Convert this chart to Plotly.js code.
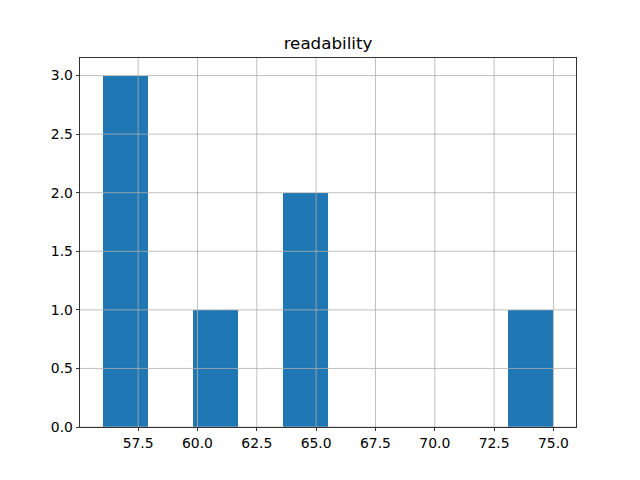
<!DOCTYPE html>
<html>
<head>
<meta charset="utf-8">
<script src="https://cdn.plot.ly/plotly-3.0.1.min.js"></script>
<style>html,body{margin:0;padding:0;background:#fff;}#chart{width:640px;height:480px;}</style>
</head>
<body>
<div id="chart"></div>
<script>
// Histogram of "readability": 10 bins from 56 to 75
const binStart = 56;
const binEnd = 75;
const binCount = 10;
const counts = [3, 0, 1, 0, 2, 0, 0, 0, 0, 1];
const xTicks = [57.5, 60.0, 62.5, 65.0, 67.5, 70.0, 72.5, 75.0];
const xTickLabels = ['57.5', '60.0', '62.5', '65.0', '67.5', '70.0', '72.5', '75.0'];
const yTicks = [0, 0.5, 1.0, 1.5, 2.0, 2.5, 3.0];
const yTickLabels = ['0.0', '0.5', '1.0', '1.5', '2.0', '2.5', '3.0'];
const titleText = 'readability';

const binWidth = (binEnd - binStart) / binCount;
const centers = counts.map((_, i) => binStart + binWidth * (i + 0.5));
const xPad = (binEnd - binStart) * 0.05;
const yMax = Math.max(...counts) * 1.05;

const gridColor = '#b0b0b0';
const shapes = [];
xTicks.forEach(v => shapes.push({type: 'line', xref: 'x', yref: 'paper', x0: v, x1: v, y0: 0, y1: 1, line: {color: gridColor, width: 0.8}, layer: 'above'}));
yTicks.forEach(v => shapes.push({type: 'line', xref: 'paper', yref: 'y', x0: 0, x1: 1, y0: v, y1: v, line: {color: gridColor, width: 0.8}, layer: 'above'}));

const font = {family: 'DejaVu Sans', size: 13.9, color: '#000'};

Plotly.newPlot('chart', [{
  type: 'bar',
  x: centers,
  y: counts,
  width: binWidth,
  marker: {color: '#1f77b4', line: {width: 0}},
  hoverinfo: 'x+y'
}], {
  width: 640, height: 480,
  margin: {l: 80, r: 64, t: 58, b: 53, pad: 0},
  paper_bgcolor: '#fff', plot_bgcolor: '#fff',
  showlegend: false,
  bargap: 0,
  title: {text: titleText, font: {family: 'DejaVu Sans', size: 16.7, color: '#000'}, x: 0.5, xanchor: 'center', xref: 'paper', y: 1 - 43/480, yref: 'container', yanchor: 'middle'},
  xaxis: {
    range: [binStart - xPad, binEnd + xPad],
    tickvals: xTicks, ticktext: xTickLabels,
    ticks: 'outside', ticklen: 3.5, tickwidth: 0.8, tickcolor: '#000',
    showline: true, linecolor: '#000', linewidth: 0.8, mirror: true,
    showgrid: false, zeroline: false,
    tickfont: font
  },
  yaxis: {
    range: [0, yMax],
    tickvals: yTicks, ticktext: yTickLabels,
    ticks: 'outside', ticklen: 3.5, tickwidth: 0.8, tickcolor: '#000',
    showline: true, linecolor: '#000', linewidth: 0.8, mirror: true,
    showgrid: false, zeroline: false,
    tickfont: font
  },
  shapes: shapes
}, {staticPlot: true});
</script>
</body>
</html>
